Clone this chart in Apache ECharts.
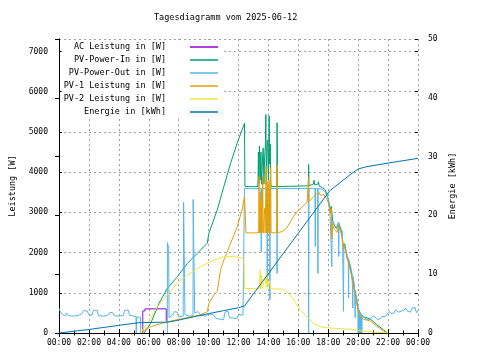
<!DOCTYPE html>
<html><head><meta charset="utf-8">
<script src="https://cdn.jsdelivr.net/npm/echarts@6/dist/echarts.min.js"></script>
<style>html,body{margin:0;padding:0;background:#fff}#c{width:480px;height:360px}</style>
</head><body><div id="c"></div>
<script>
const titleText = 'Tagesdiagramm vom 2025-06-12';
const seriesNames = ['AC Leistung in [W]','PV-Power-In in [W]','PV-Power-Out in [W]','PV-1 Leistung in [W]','PV-2 Leistung in [W]','Energie in [kWh]'];
const seriesColors = ['#9400d3','#009e73','#56b4e9','#e69f00','#f0e442','#0072b2'];
const xTickLabels = ['00:00','02:00','04:00','06:00','08:00','10:00','12:00','14:00','16:00','18:00','20:00','22:00','00:00'];
const leftAxisName = 'Leistung [W]';
const rightAxisName = 'Energie [kWh]';

// [hour, W]
const acPower = [[5.6,0],[5.6,550],[5.75,550],[5.75,600],[7.17,600],[7.17,300]];

const pvIn = [[5.69,0],[6.13,240],[6.69,740],[7.24,1110],[7.91,1400],[8.58,1730],[9.24,1980],[9.91,2230],[10.02,2480],[10.58,3060],[11.02,3640],[11.47,4220],[11.91,4720],[12.24,5050],[12.4,5215],[12.43,3640],[13.3,3640],[13.33,4500],[13.36,3700],[13.4,4650],[13.45,3800],[13.5,4500],[13.55,3700],[13.6,4300],[13.65,4600],[13.7,3700],[13.75,4400],[13.8,4700],[13.83,5430],[13.86,3700],[13.9,4600],[13.95,4800],[14.0,3800],[14.05,5400],[14.08,4200],[14.12,4700],[14.16,3700],[14.2,3640],[14.56,3640],[14.58,5230],[14.61,3640],[16.67,3660],[16.69,4190],[16.71,3660],[17.0,3700],[17.05,3800],[17.1,3680],[17.3,3700],[17.35,3760],[17.4,3650],[17.6,3620],[17.8,3560],[17.9,3450],[18.0,3330],[18.13,3050],[18.2,3150],[18.3,2780],[18.4,2680],[18.55,2600],[18.7,2740],[18.8,2700],[18.9,2500],[19.0,2170],[19.1,2220],[19.24,1930],[19.35,1820],[19.47,1640],[19.58,1430],[19.69,1190],[19.8,1020],[19.87,860],[20.0,600],[20.2,460],[20.36,400],[20.8,350],[21.24,210],[21.69,80],[21.96,0]];

const pvOut = [[0,610],[0.1,520],[0.25,450],[0.45,430],[0.5,500],[0.6,500],[0.65,430],[1.0,420],[1.3,440],[1.5,470],[1.65,560],[1.9,540],[2.0,450],[2.2,440],[2.3,570],[2.55,560],[2.65,430],[3.0,420],[3.3,450],[3.4,510],[3.6,500],[3.7,430],[4.0,420],[4.3,440],[4.4,570],[4.65,560],[4.7,440],[5.0,420],[5.15,410],[5.16,0],[5.2,0],[5.21,400],[5.45,390],[5.46,0],[5.47,null],[7.23,null],[7.24,0],[7.25,2250],[7.3,2270],[7.33,2100],[7.36,380],[7.6,450],[7.7,530],[7.9,520],[8.0,400],[8.3,420],[8.33,3250],[8.4,3250],[8.42,460],[8.7,420],[8.96,430],[8.97,3320],[9.05,3320],[9.07,500],[9.3,530],[9.5,440],[9.8,420],[10.0,470],[10.3,460],[10.5,360],[11.0,330],[11.1,520],[11.3,540],[11.4,380],[11.9,360],[12.0,460],[12.3,440],[12.4,3590],[13.5,3590],[13.52,2020],[13.54,3590],[13.9,3590],[13.92,1150],[13.94,3590],[14.08,3590],[14.1,820],[14.12,3590],[14.56,3590],[14.58,1480],[14.6,3590],[16.67,3590],[16.69,0],[16.71,3590],[17.11,3590],[17.13,2150],[17.15,3590],[17.29,3590],[17.31,1480],[17.33,3590],[17.6,3580],[17.8,3500],[17.9,3420],[18.0,3330],[18.1,3150],[18.2,3180],[18.24,1650],[18.27,2800],[18.4,2700],[18.55,2620],[18.68,2750],[18.7,1900],[18.72,2720],[18.85,2700],[18.95,2500],[19.02,540],[19.04,2200],[19.15,2230],[19.25,1950],[19.34,1820],[19.36,870],[19.38,1800],[19.5,1650],[19.6,1450],[19.64,620],[19.66,1400],[19.75,1200],[19.8,380],[19.82,1050],[19.9,880],[19.98,700],[20.0,0],[20.03,620],[20.06,0],[20.09,560],[20.12,0],[20.15,500],[20.18,0],[20.21,470],[20.24,0],[20.27,430],[20.4,380],[20.6,330],[20.8,350],[21.0,420],[21.2,380],[21.3,330],[21.5,360],[21.6,420],[21.8,400],[21.9,450],[22.1,540],[22.2,480],[22.4,500],[22.5,570],[22.7,520],[22.8,500],[23.0,560],[23.2,610],[23.3,540],[23.5,520],[23.6,620],[23.8,640],[23.9,500],[24,560]];

const pv1 = [[5.4,0],[6.13,160],[7.24,280],[8.36,365],[9.47,450],[9.91,530],[10.02,740],[10.36,945],[10.58,1035],[10.8,1570],[11.02,1815],[11.47,2230],[11.91,2640],[12.24,3060],[12.4,3390],[12.45,2980],[12.5,2490],[13.35,2490],[13.37,3890],[13.4,2490],[13.45,3500],[13.47,2490],[13.55,3300],[13.57,2490],[13.62,3900],[13.65,2490],[13.75,3100],[13.78,2490],[13.85,4150],[13.88,2490],[13.95,3760],[13.98,2490],[14.05,3800],[14.08,2490],[14.15,4100],[14.18,2490],[14.55,2490],[14.58,4180],[14.61,2490],[14.9,2520],[15.0,2560],[15.2,2600],[15.47,2760],[15.6,2850],[15.9,3010],[16.24,3130],[16.58,3250],[16.67,3260],[16.69,3870],[16.71,3270],[17.0,3380],[17.2,3450],[17.36,3500],[17.5,3420],[17.7,3440],[17.9,3330],[18.0,3250],[18.13,2970],[18.2,3100],[18.24,2350],[18.3,2700],[18.36,2600],[18.5,2550],[18.58,2500],[18.7,2680],[18.8,2640],[18.9,2430],[19.0,2100],[19.1,2150],[19.24,1860],[19.35,1750],[19.47,1570],[19.58,1360],[19.69,1120],[19.8,950],[19.87,790],[20.0,540],[20.2,400],[20.36,340],[20.8,300],[21.24,170],[21.69,50],[21.96,0]];

const pv2 = [[5.45,0],[5.9,240],[6.58,650],[7.24,945],[7.91,1240],[8.58,1440],[9.47,1650],[10.36,1815],[11.02,1900],[11.69,1900],[12.36,1860],[12.4,1110],[13.4,1100],[13.45,1570],[13.48,1100],[13.55,1450],[13.58,1100],[13.8,1400],[13.85,1150],[13.9,1500],[13.95,1100],[14.1,1300],[14.15,1100],[15.0,1090],[15.24,1030],[15.69,820],[16.13,570],[16.58,405],[17.0,240],[17.47,157],[17.9,130],[18.0,117],[19.47,92],[19.9,75],[20.6,32],[21.7,7],[22,0]];

// [hour, kWh]
const energy = [[0,0],[1,0.3],[2,0.6],[3,0.95],[4,1.3],[5,1.65],[5.35,1.75],[7.3,1.85],[8,2.2],[9,2.75],[10,3.3],[11,3.8],[12,4.3],[12.4,4.6],[18.1,24.2],[18.8,25.6],[19.5,27.0],[20,27.9],[20.6,28.3],[22,28.9],[23,29.3],[24,29.7]];

const FONT = 'DejaVu Sans Mono';
const chart = echarts.init(document.getElementById('c'), null, {renderer:'canvas', width:480, height:360});
const dataList = [acPower, pvIn, pvOut, pv1, pv2, energy];
const series = seriesNames.map((n,i) => ({
  name:n, type:'line', data:dataList[i], yAxisIndex: i===5 ? 1 : 0,
  symbol:'none', showSymbol:false, connectNulls:false,
  lineStyle:{width:1,color:seriesColors[i]}, itemStyle:{color:seriesColors[i]},
  emphasis:{disabled:true}
}));
const black = {color:'#000', width:1};
const txt = {fontFamily:FONT, fontSize:8, color:'#000'};
chart.setOption({
  animation:false,
  title:{text:titleText, left:154, top:13, padding:0,
    textStyle:{fontFamily:FONT, fontSize:8.5, fontWeight:'normal', color:'#000'}},
  legend:{data:seriesNames, orient:'vertical', align:'right', right:256, top:40,
    icon:'rect', itemWidth:28, itemHeight:1.5, itemGap:3, padding:[2,6,1,2], backgroundColor:'#fff',
    selectedMode:false,
    textStyle:{fontFamily:FONT, fontSize:8.5, lineHeight:10, color:'#000', padding:[0,19,0,0]}},
  grid:{left:58, right:62, top:39, bottom:27, containLabel:false},
  xAxis:[
    {type:'value', min:0, max:24, interval:2, position:'bottom',
     axisLine:{lineStyle:black}, axisTick:{inside:true, length:4, lineStyle:black},
     minorTick:{show:true, splitNumber:2, length:2.5, lineStyle:black},
     axisLabel:Object.assign({margin:6, formatter:v => xTickLabels[Math.round(v/2)]}, txt),
     splitLine:{show:true, lineStyle:{color:'#a0a0a0', type:[2,3], width:1}}},
    {type:'value', min:0, max:24, interval:2, position:'top',
     axisLine:{lineStyle:black}, axisTick:{inside:true, length:4, lineStyle:black},
     minorTick:{show:true, splitNumber:2, length:2.5, lineStyle:black},
     axisLabel:{show:false}, splitLine:{show:false}}
  ],
  yAxis:[
    {type:'value', min:0, max:7310, interval:1000, position:'left',
     axisLine:{show:true, lineStyle:black}, axisTick:{inside:true, length:3, lineStyle:black},
     axisLabel:Object.assign({margin:11, showMaxLabel:false, formatter:v => String(v)}, txt),
     splitLine:{show:true, lineStyle:{color:'#a0a0a0', type:[2,3], width:1}},
     name:leftAxisName, nameLocation:'middle', nameGap:42, nameRotate:90,
     nameTextStyle:{fontFamily:FONT, fontSize:8.5, color:'#000'}},
    {type:'value', min:0, max:50, interval:10, position:'right',
     axisLine:{show:true, lineStyle:black}, axisTick:{inside:true, length:4, lineStyle:black},
     axisLabel:Object.assign({margin:10, formatter:v => String(v)}, txt), splitLine:{show:false},
     name:rightAxisName, nameLocation:'middle', nameGap:30, nameRotate:90,
     nameTextStyle:{fontFamily:FONT, fontSize:8.5, color:'#000'}},
    {type:'value', min:0, max:7310, interval:1000, position:'right',
     axisLine:{show:false}, axisTick:{inside:true, length:3, lineStyle:black},
     axisLabel:{show:false}, splitLine:{show:false}}
  ],
  series:series
});
</script></body></html>
